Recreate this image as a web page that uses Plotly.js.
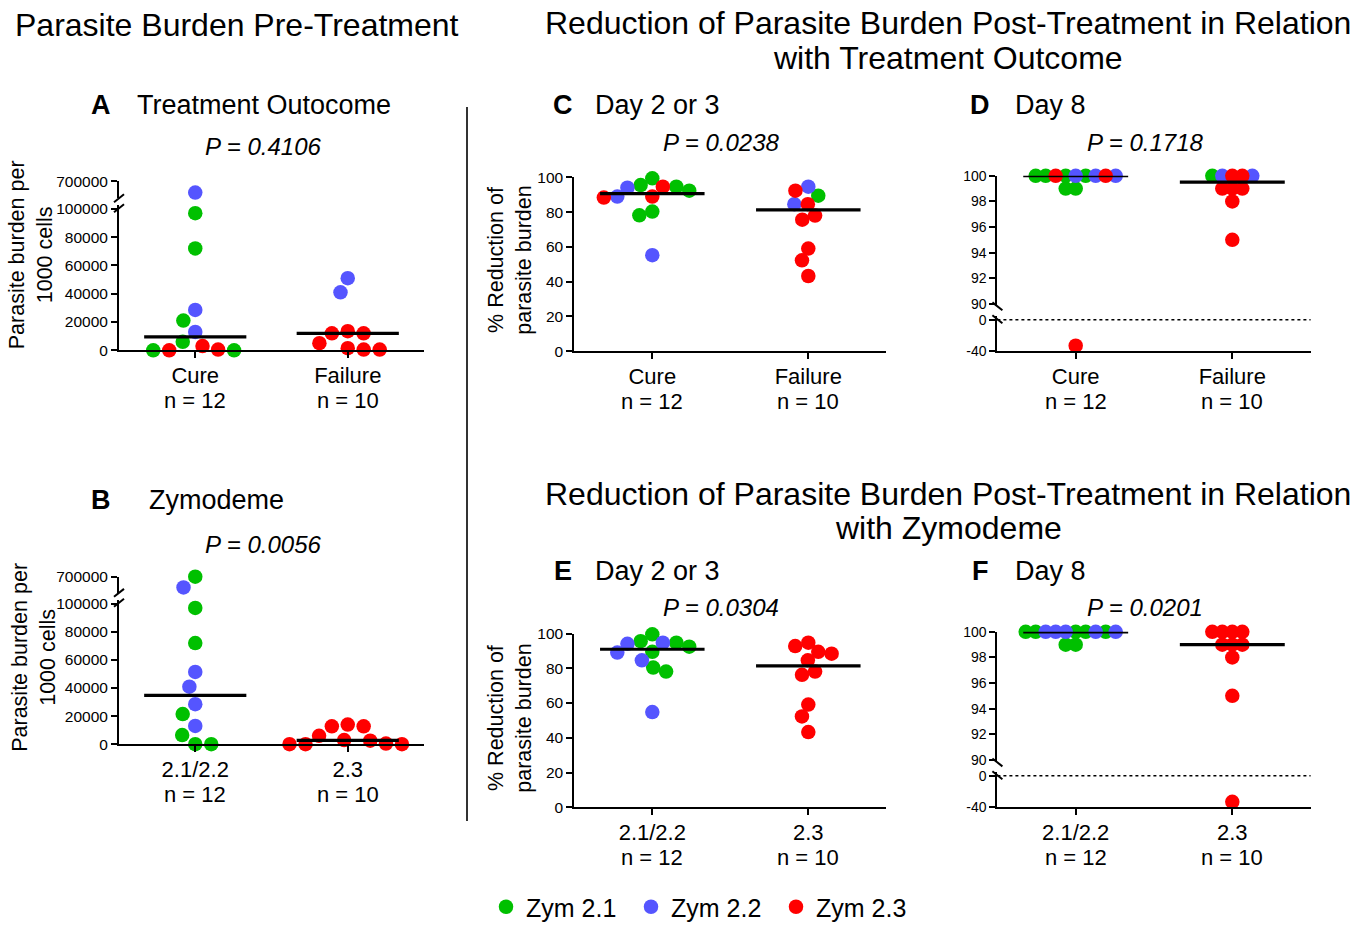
<!DOCTYPE html>
<html>
<head>
<meta charset="utf-8">
<script src="https://cdn.plot.ly/plotly-3.0.1.min.js"></script>
<style>html,body{margin:0;padding:0;background:#fff;} #chart{width:1371px;height:930px;}</style>
</head>
<body>
<div id="chart"></div>
<script>
// ---------------- DATA ----------------
const catsOutcome = ["Cure", "Failure"];
const nOutcome = ["n = 12", "n = 10"];
const catsZym = ["2.1/2.2", "2.3"];
const nZym = ["n = 12", "n = 10"];
const zymCodes = ["2.1", "2.2", "2.3"];
const legendLabels = ["Zym 2.1", "Zym 2.2", "Zym 2.3"];

// A: parasite burden pre-treatment by outcome
const aCureVal = [0, 6000, 0, 3000, 0, 500, 13000, 28500, 21000, 72000, 97000, 300000];
const aCureZym = ["2.3","2.1","2.1","2.3","2.1","2.3","2.2","2.2","2.1","2.1","2.1","2.2"];
const aFailVal = [12000, 500, 5000, 12000, 500, 13500, 1500, 51000, 41000, 700000];
const aFailZym = ["2.3","2.3","2.3","2.3","2.3","2.3","2.3","2.2","2.2","2.1"];

// B: parasite burden pre-treatment by zymodeme
const b21Val = [0, 21500, 6500, 72000, 97000, 51500, 41000, 28500, 13000, 0, 300000, 700000];
const b21Zym = ["2.1","2.1","2.1","2.1","2.1","2.2","2.2","2.2","2.2","2.1","2.2","2.1"];
const b23Val = [14000, 6000, 0, 500, 3000, 12800, 12800, 0, 2500, 0];
const b23Zym = ["2.3","2.3","2.3","2.3","2.3","2.3","2.3","2.3","2.3","2.3"];

// C: % reduction day 2 or 3 by outcome
const cCureVal = [95.6, 89, 94.1, 88.4, 80.4, 94.7, 78.2, 55.3, 94.7, 99.5, 89, 92.4];
const cCureZym = ["2.1","2.3","2.2","2.3","2.1","2.3","2.1","2.2","2.1","2.1","2.2","2.1"];
const cFailVal = [92.4, 84.6, 94.7, 84.6, 75.7, 52.3, 43.3, 89.5, 78.1, 59.1];
const cFailZym = ["2.3","2.3","2.2","2.2","2.3","2.3","2.3","2.1","2.3","2.3"];

// D: % reduction day 8 by outcome
const dCureVal = [100, 100, 100, 100, 100, 99, 99, 100, 100, 100, 100, -33];
const dCureZym = ["2.2","2.1","2.1","2.3","2.2","2.1","2.1","2.1","2.3","2.1","2.2","2.3"];
const dFailVal = [100, 100, 99, 99, 100, 98, 95, 99, 100, 100];
const dFailZym = ["2.3","2.2","2.3","2.3","2.3","2.3","2.3","2.3","2.1","2.2"];

// E: % reduction day 2 or 3 by zymodeme
const e21Val = [95.6, 99.5, 89.5, 94.1, 84.6, 89, 54.8, 78.1, 80.4, 94.7, 94.7, 92.4];
const e21Zym = ["2.1","2.1","2.1","2.2","2.2","2.2","2.2","2.1","2.1","2.2","2.1","2.1"];
const e23Val = [92.8, 84.6, 88.4, 78.1, 59.1, 43.3, 89.5, 76.2, 52.3, 94.7];
const e23Zym = ["2.3","2.3","2.3","2.3","2.3","2.3","2.3","2.3","2.3","2.3"];

// F: % reduction day 8 by zymodeme
const f21Val = [100, 100, 100, 100, 100, 100, 100, 100, 100, 100, 99, 99];
const f21Zym = ["2.1","2.2","2.1","2.2","2.2","2.2","2.1","2.1","2.2","2.1","2.1","2.1"];
const f23Val = [100, 100, 100, 100, 99, 99, 99, 98, 95, -33];
const f23Zym = ["2.3","2.3","2.3","2.3","2.3","2.3","2.3","2.3","2.3","2.3"];

// tick labels
const ticksBurden = [0, 20000, 40000, 60000, 80000, 100000];
const ticksBurdenTop = [700000];
const ticksPct = [0, 20, 40, 60, 80, 100];
const ticksDay8Top = [90, 92, 94, 96, 98, 100];
const ticksDay8Low = [-40, 0];
const ticksDay8LowText = ["-40", "0"];

const pValues = ["P = 0.4106", "P = 0.0056", "P = 0.0238", "P = 0.1718", "P = 0.0304", "P = 0.0201"];

// ---------------- STYLE / LAYOUT HELPERS ----------------
const W = 1371, H = 930;
const FONT = "Liberation Sans, Arial, Helvetica, sans-serif";
const zymColors = {"2.1": "#00c000", "2.2": "#5555ff", "2.3": "#ff0000"};
const fx = p => p / W;
const fy = p => 1 - p / H;
function linAxis(v0, p0, v1, p1, pTop, pBot) {
  const s = (v1 - v0) / (p1 - p0);
  const vAt = p => v0 + (p - p0) * s;
  return {range: [vAt(pBot), vAt(pTop)], domain: [fy(pBot), fy(pTop)], pTop: pTop, pBot: pBot};
}

const panels = [
  {xid: "x", xPx: [119, 424], cats: catsOutcome, ns: nOutcome, D: 16, brk: "/", yfont: 15.5,
   groups: [{v: aCureVal, z: aCureZym}, {v: aFailVal, z: aFailZym}],
   segs: [Object.assign({id: "y", tickvals: ticksBurden}, linAxis(0, 353.3, 100000, 210.7, 207, 353.3)),
          Object.assign({id: "y2", tickvals: ticksBurdenTop}, linAxis(100000, 200, 700000, 182.7, 182.7, 200))],
   legend: true},
  {xid: "x2", xPx: [119, 424], cats: catsZym, ns: nZym, D: 16, brk: "/", yfont: 15.5,
   groups: [{v: b21Val, z: b21Zym}, {v: b23Val, z: b23Zym}],
   segs: [Object.assign({id: "y3", tickvals: ticksBurden}, linAxis(0, 750.7, 100000, 609, 605, 750.7)),
          Object.assign({id: "y4", tickvals: ticksBurdenTop}, linAxis(100000, 598, 700000, 581.7, 581.7, 598))]},
  {xid: "x3", xPx: [574.3, 886.3], cats: catsOutcome, ns: nOutcome, D: 13.5, yfont: 15.5,
   groups: [{v: cCureVal, z: cCureZym}, {v: cFailVal, z: cFailZym}],
   segs: [Object.assign({id: "y5", tickvals: ticksPct}, linAxis(0, 354.3, 100, 179, 179, 354.3))]},
  {xid: "x4", xPx: [997.4, 1310.6], cats: catsOutcome, ns: nOutcome, D: 10, brk: "\\", dotted: true, yfont: 14,
   groups: [{v: dCureVal, z: dCureZym}, {v: dFailVal, z: dFailZym}],
   segs: [Object.assign({id: "y6", tickvals: ticksDay8Low, ticktext: ticksDay8LowText}, linAxis(-40, 354.3, 0, 322.5, 319, 354.3)),
          Object.assign({id: "y7", tickvals: ticksDay8Top}, linAxis(90, 306.5, 100, 177.3, 177.3, 309))]},
  {xid: "x5", xPx: [574.3, 886.3], cats: catsZym, ns: nZym, D: 13.5, yfont: 15.5,
   groups: [{v: e21Val, z: e21Zym}, {v: e23Val, z: e23Zym}],
   segs: [Object.assign({id: "y8", tickvals: ticksPct}, linAxis(0, 814.3, 100, 639, 639, 814.3))]},
  {xid: "x6", xPx: [997.4, 1310.6], cats: catsZym, ns: nZym, D: 10, brk: "\\", dotted: true, yfont: 14,
   groups: [{v: f21Val, z: f21Zym}, {v: f23Val, z: f23Zym}],
   segs: [Object.assign({id: "y9", tickvals: ticksDay8Low, ticktext: ticksDay8LowText}, linAxis(-40, 814.3, 0, 782.5, 779, 814.3)),
          Object.assign({id: "y10", tickvals: ticksDay8Top}, linAxis(90, 766.5, 100, 637.3, 637.3, 769))]}
];

function median(a) {
  const s = [...a].sort((p, q) => p - q), n = s.length;
  return n % 2 ? s[(n - 1) / 2] : (s[n / 2 - 1] + s[n / 2]) / 2;
}
function segFor(panel, v) {
  if (panel.segs.length > 1 && v > panel.segs[0].range[1]) return panel.segs[1];
  return panel.segs[0];
}
function pixY(seg, v) {
  return seg.pBot - (v - seg.range[0]) / (seg.range[1] - seg.range[0]) * (seg.pBot - seg.pTop);
}
// beeswarm: horizontal dodge so symbols do not overlap (in px)
function swarm(pys, D) {
  const idx = pys.map((p, i) => i).sort((a, b) => pys[a] - pys[b]);
  const placed = [], out = new Array(pys.length);
  for (const i of idx) {
    const y = pys[i];
    const cands = [0];
    for (const p of placed) {
      const dy = Math.abs(p.y - y);
      if (dy < D) { const dx = Math.sqrt(D * D - dy * dy); cands.push(p.x + dx, p.x - dx); }
    }
    cands.sort((a, b) => Math.abs(a) - Math.abs(b) || a - b);
    let chosen = 0;
    for (const c of cands) {
      if (placed.every(p => (p.x - c) ** 2 + (p.y - y) ** 2 >= D * D - 1e-6)) { chosen = c; break; }
    }
    placed.push({x: chosen, y: y});
    out[i] = chosen;
  }
  return out;
}

const traces = [];
const layout = {
  width: W, height: H, margin: {l: 0, r: 0, t: 0, b: 0},
  paper_bgcolor: "#fff", plot_bgcolor: "rgba(0,0,0,0)",
  font: {family: FONT, color: "#000"},
  showlegend: true,
  legend: {orientation: "h", x: fx(486), xanchor: "left", y: fy(915), yanchor: "middle",
           font: {size: 25, family: FONT}, itemsizing: "trace", traceorder: "normal",
           entrywidth: 100, entrywidthmode: "pixels"},
  annotations: [], shapes: []
};

panels.forEach((pn, k) => {
  const pxPerX = (pn.xPx[1] - pn.xPx[0]) / 2;
  const lowSeg = pn.segs[0];
  const xnum = pn.xid === "x" ? "" : pn.xid.slice(1);
  layout["xaxis" + xnum] = {
    domain: [fx(pn.xPx[0]), fx(pn.xPx[1])], range: [-0.5, 1.5], anchor: lowSeg.id,
    tickvals: [0, 1], ticktext: pn.cats, ticks: "outside", ticklen: 6, tickwidth: 2, tickcolor: "#000",
    showline: true, linewidth: 2, linecolor: "#000", showgrid: false, zeroline: false,
    ticklabelstandoff: -2,
    tickfont: {size: 22, family: FONT, color: "#000"}, automargin: false, fixedrange: true
  };
  pn.segs.forEach(sg => {
    const ynum = sg.id === "y" ? "" : sg.id.slice(1);
    const ax = {
      domain: sg.domain, range: sg.range, anchor: pn.xid,
      tickvals: sg.tickvals, ticks: "outside", ticklen: 6, tickwidth: 2, tickcolor: "#000",
      showline: true, linewidth: 2, linecolor: "#000", showgrid: false, zeroline: false,
      tickfont: {size: pn.yfont, family: FONT, color: "#000"}, tickformat: "d", automargin: false, fixedrange: true
    };
    if (sg.ticktext) ax.ticktext = sg.ticktext;
    layout["yaxis" + ynum] = ax;
  });

  pn.groups.forEach((g, gi) => {
    const segs = g.v.map(v => segFor(pn, v));
    const pys = g.v.map((v, i) => pixY(segs[i], v));
    const offs = swarm(pys, pn.D);
    zymCodes.forEach((zc, zi) => {
      pn.segs.forEach(sg => {
        const xs = [], ys = [];
        g.v.forEach((v, i) => {
          if (g.z[i] === zc && segs[i] === sg) { xs.push(gi + offs[i] / pxPerX); ys.push(v); }
        });
        if (!xs.length) return;
        const showLeg = !!(pn.legend && gi === 0 && sg === pn.segs[0]);
        traces.push({
          type: "scatter", mode: "markers", x: xs, y: ys, xaxis: pn.xid, yaxis: sg.id,
          marker: {color: zymColors[zc], size: 14.5, line: {width: 0}},
          name: legendLabels[zi], legendgroup: zc, showlegend: showLeg,
          cliponaxis: false, hoverinfo: "skip"
        });
      });
    });
    const m = median(g.v);
    const ms = segFor(pn, m);
    traces.push({
      type: "scatter", mode: "lines", x: [gi - 0.335, gi + 0.335], y: [m, m], xaxis: pn.xid, yaxis: ms.id,
      line: {color: "#000", width: 3.2}, showlegend: false, cliponaxis: false, hoverinfo: "skip"
    });
    // n = ... label under category
    layout.annotations.push({
      text: pn.ns[gi], xref: pn.xid, x: gi, yref: "paper", y: fy(lowSeg.pBot + 51),
      xanchor: "center", yanchor: "middle", showarrow: false, font: {size: 22, family: FONT, color: "#000"}
    });
  });

  // axis break marks
  if (pn.segs.length > 1) {
    const xa = pn.xPx[0];
    [pn.segs[1].pBot, pn.segs[0].pTop + 3].forEach(yc => {
      const s = pn.brk === "/" ? 1 : -1;
      layout.shapes.push({type: "line", xref: "paper", yref: "paper",
        x0: fx(xa - 5), y0: fy(yc + 4 * s), x1: fx(xa + 5), y1: fy(yc - 4 * s),
        line: {color: "#000", width: 2}});
    });
  }
  if (pn.dotted) {
    layout.shapes.push({type: "line", xref: "paper", yref: lowSeg.id,
      x0: fx(pn.xPx[0]), x1: fx(pn.xPx[1]), y0: 0, y1: 0,
      line: {color: "#000", width: 1.5, dash: "dot"}});
  }
});

// separator
layout.shapes.push({type: "line", xref: "paper", yref: "paper", x0: fx(467), x1: fx(467), y0: fy(108), y1: fy(828),
  line: {color: "#333", width: 2}});

function txt(text, x, y, size, opts) {
  layout.annotations.push(Object.assign({
    text: text, xref: "paper", yref: "paper", x: fx(x), y: fy(y), xanchor: "center", yanchor: "middle",
    showarrow: false, font: {size: size, family: FONT, color: "#000"}
  }, opts || {}));
}
// titles
txt("Parasite Burden Pre-Treatment", 236.5, 25, 32);
txt("Reduction of Parasite Burden Post-Treatment in Relation", 948, 23, 32);
txt("with Treatment Outcome", 948, 59, 32);
txt("Reduction of Parasite Burden Post-Treatment in Relation", 948, 498, 32);
txt("with Zymodeme", 948, 533, 32);
// panel labels
const panelHeads = [
  ["A", 101, 106, "Treatment Outocome", 135],
  ["B", 101, 504, "Zymodeme", 147],
  ["C", 563, 106, "Day 2 or 3", 593],
  ["D", 980, 106, "Day 8", 1013],
  ["E", 563, 576, "Day 2 or 3", 593],
  ["F", 980, 576, "Day 8", 1013]
];
panelHeads.forEach(h => {
  txt("<b>" + h[0] + "</b>", h[1], h[2], 27);
  txt(h[3], h[4], h[2], 27, {xanchor: "left"});
});
// P values
const pPos = [[263, 148], [263, 549], [721, 144], [1145, 144], [721, 613], [1145, 613]];
pValues.forEach((p, i) => txt("<i>" + p + "</i>", pPos[i][0], pPos[i][1], 24));
// y-axis titles
txt("Parasite burden per<br>1000 cells", 30.5, 257, 21.5, {textangle: -90});
txt("Parasite burden per<br>1000 cells", 34.5, 663, 21.5, {textangle: -90});
txt("% Reduction of<br>parasite burden", 510, 263, 21.5, {textangle: -90});
txt("% Reduction of<br>parasite burden", 510, 725, 21.5, {textangle: -90});

Plotly.newPlot("chart", traces, layout, {displayModeBar: false, staticPlot: true});
</script>
</body>
</html>
